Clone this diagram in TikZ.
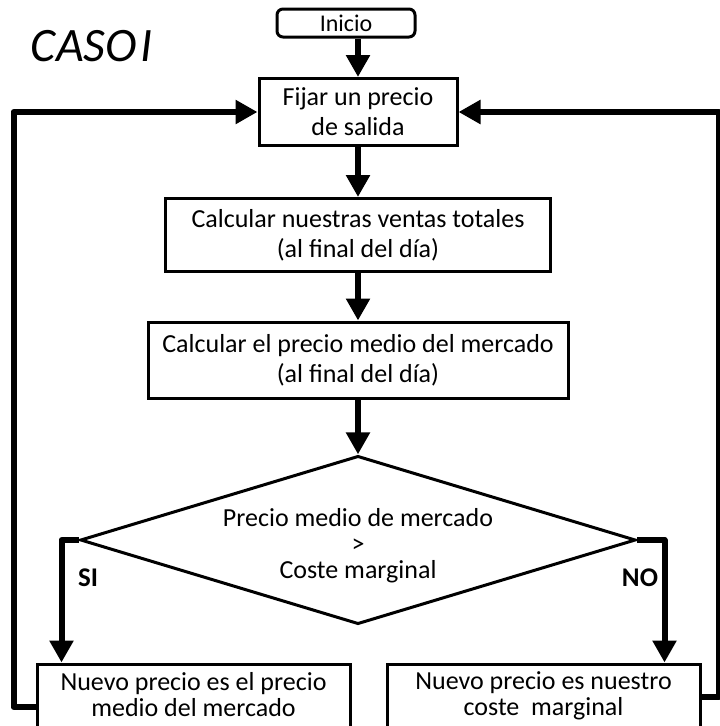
\documentclass[tikz,border=0pt]{standalone}
\usepackage{fontspec}
\setmainfont{Carlito}
\usetikzlibrary{
  arrows.meta,
  calc,
  positioning,
  shapes.geometric
}
\tikzset{
  casoBox/.style={
    draw,
    line width=3pt,
    align=center,
    font=\fontsize{26}{30}\selectfont,
    inner sep=4pt
  },
  casoStart/.style={
    draw,
    line width=3pt,
    rounded corners=6pt,
    font=\fontsize{24}{24}\selectfont,
    minimum width=138pt,
    minimum height=28pt,
    inner sep=1pt
  },
  casoDecision/.style={
    draw,
    diamond,
    line width=3pt,
    align=center,
    shape aspect=3.3,
    minimum width=550pt,
    minimum height=165pt,
    inner sep=0pt,
    font=\fontsize{26}{26}\selectfont
  },
  casoArrow/.style={line width=6pt, line join=round, -{Triangle[length=22pt,width=23pt]}},
  casoLabel/.style={font=\bfseries\fontsize{27}{30}\selectfont}
}

\begin{document}
\begin{tikzpicture}[x=1pt,y=-1pt]
  \useasboundingbox (0,0) rectangle (720,726);
  \clip (0,0) rectangle (720,726);

  \node[font=\itshape\fontsize{48}{50}\selectfont] (titulo) at (92,46) {CASO\hspace{4pt}I};
  \node[casoStart] (inicio) at (346,23) {Inicio};
  \node[casoBox, minimum width=198pt, minimum height=67pt] (fijar) at (358,112)
    {Fijar un precio\\de salida};
  \node[casoBox, minimum width=385pt, minimum height=73pt] (ventas) at (358,235)
    {Calcular nuestras ventas totales\\(al final del día)};
  \node[casoBox, minimum width=420pt, minimum height=76pt] (medio) at (358,360)
    {Calcular el precio medio del mercado\\(al final del día)};
  \node[casoDecision] (cond) at (358,540)
    {\rule{0pt}{30pt}Precio medio de mercado\\>\\Coste marginal};
  \node[casoBox, minimum width=313pt, minimum height=74pt,
    font=\fontsize{26}{26}\selectfont] (si) at (193.5,701)
    {Nuevo precio es el precio\\medio del mercado\rule[-14pt]{0pt}{1pt}};
  \node[casoBox, minimum width=313pt, minimum height=74pt,
    font=\fontsize{26}{26}\selectfont] (no) at (543.5,701)
    {Nuevo precio es nuestro\\coste\ \ marginal\rule[-14pt]{0pt}{1pt}};
  \node[casoLabel] (etiqSi) at (88,578) {SI};
  \node[casoLabel] (etiqNo) at (640,578) {NO};

  % main flow
  \draw[casoArrow] (inicio.south -| fijar.north) -- (fijar);
  \draw[casoArrow] (fijar) -- (ventas);
  \draw[casoArrow] (ventas) -- (medio);
  \draw[casoArrow] (medio) -- (cond);
  \draw[casoArrow] (cond.west) -| ($(si.north west)+(26,0)$);
  \draw[casoArrow] (cond.east) -| ($(no.north east)+(-37,0)$);

  % back to the start price
  \draw[casoArrow] ($(si.west)+(0,6)$) -- ++(-22,0) |- (fijar.west);
  \draw[casoArrow] ($(no.east)+(0,-4)$) -- ++(17,0) |- (fijar.east);
\end{tikzpicture}
\end{document}
